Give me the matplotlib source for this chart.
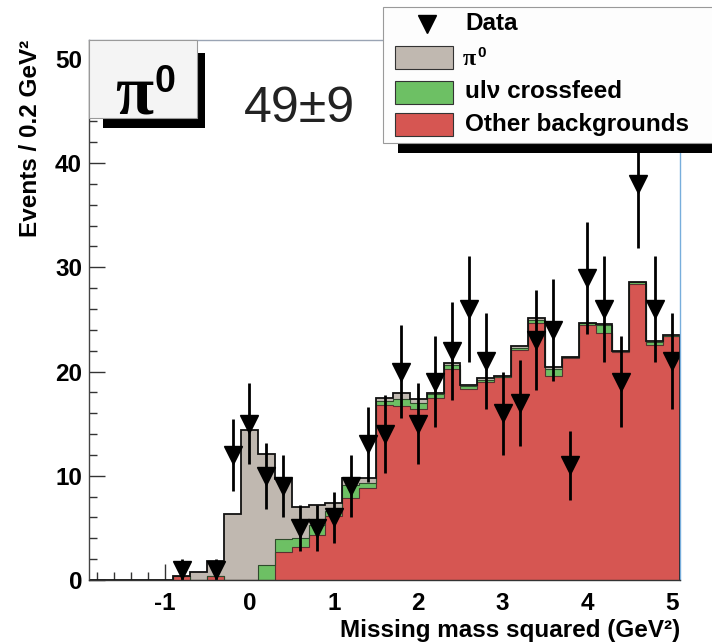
import numpy as np
import matplotlib
matplotlib.use("Agg")
import matplotlib.pyplot as plt
from matplotlib.patches import Rectangle
from matplotlib.lines import Line2D
from matplotlib.ticker import MultipleLocator

# ---- data: 0.2 GeV^2 bins of missing mass squared ----
bin_edges = np.round(np.arange(-1.9, 5.1001, 0.2), 2)
bin_centers = 0.5 * (bin_edges[:-1] + bin_edges[1:])

other_bkg = [0, 0, 0, 0, 0, 0.4, 0, 0.4, 0, 0, 0, 2.7, 3.2, 4.3, 6.1, 7.9, 8.8,
             16.8, 16.7, 16.4, 17.5, 20.2, 18.3, 19.0, 19.45, 22.1, 24.7, 19.6,
             21.3, 24.5, 23.7, 21.9, 28.4, 22.5, 23.4]
ulnu_crossfeed = [0, 0, 0, 0, 0, 0, 0, 0, 0, 0, 1.4, 1.2, 0.8, 1.0, 0.5, 1.2, 0.5,
                  0.35, 0.7, 0.6, 0.3, 0.4, 0.3, 0.2, 0.05, 0.2, 0.2, 0.6,
                  0.05, 0.15, 0.8, 0.05, 0.15, 0.3, 0.05]
pi0_signal = [0, 0, 0, 0, 0, 0, 0.8, 1.4, 6.3, 14.4, 10.7, 5.8, 3.0, 1.9, 0.8, 0.7, 0.5,
              0.35, 0.55, 0.35, 0.15, 0.2, 0.15, 0.2, 0.05, 0.1, 0.2, 0.2,
              0.05, 0.05, 0.05, 0.05, 0.05, 0.1, 0.05]
data_counts = [0, 0, 0, 0, 0, 1, 0, 1, 12, 15, 10, 9, 5, 5, 6, 9, 13,
               14, 20, 15, 19, 22, 26, 21, 16, 17, 23, 24,
               11, 29, 26, 19, 38, 26, 21]

signal_label = "49±9"
legend_labels = ["Data", "π", "ulν crossfeed", "Other backgrounds"]

# ---- style ----
W, H = 712, 644
SANS = "Liberation Sans"
SERIF = "Liberation Serif"
FS = 17.5
c_red = "#d65652"
c_green = "#6dc064"
c_grey = "#c0b8b0"

plt.rcParams["font.family"] = [SANS, "DejaVu Sans"]
plt.rcParams["axes.unicode_minus"] = False


def fx(px):
    return px / W


def fy(py):
    return 1 - py / H


fig = plt.figure(figsize=(W / 100, H / 100), dpi=100)
ax = fig.add_axes([fx(89), fy(580), fx(680) - fx(89), fy(40) - fy(580)])

red = np.array(other_bkg)
green = np.array(ulnu_crossfeed)
pi0 = np.array(pi0_signal)
lvl1 = red
lvl2 = red + green
lvl3 = red + green + pi0

# stacked filled histograms
ax.stairs(lvl1, bin_edges, baseline=0, fill=True, color=c_red, zorder=2)
ax.stairs(lvl2, bin_edges, baseline=lvl1, fill=True, color=c_green, zorder=2)
ax.stairs(lvl3, bin_edges, baseline=lvl2, fill=True, color=c_grey, zorder=2)
ax.stairs(lvl1, bin_edges, color="#5a3030", lw=0.8, zorder=3)
ax.stairs(lvl2, bin_edges, color="#2f4a2c", lw=0.8, zorder=3)
ax.stairs(lvl3, bin_edges, color="#111111", lw=1.3, zorder=3)

# data points with Poisson errors
counts = np.array(data_counts, dtype=float)
mask = counts > 0
ax.errorbar(bin_centers[mask], counts[mask], yerr=np.sqrt(counts[mask]),
            fmt="v", color="black", ms=12.5, elinewidth=2.0, capsize=0, zorder=4)

ax.set_xlim(-1.9, 5.1)
ax.set_ylim(0, 51.8)
ax.xaxis.set_major_locator(MultipleLocator(1))
ax.xaxis.set_minor_locator(MultipleLocator(0.2))
ax.yaxis.set_major_locator(MultipleLocator(10))
ax.yaxis.set_minor_locator(MultipleLocator(2))
ax.tick_params(which="both", direction="in", top=False, right=False,
               color="#333333", width=1.0)
ax.tick_params(which="major", length=11.5)
ax.tick_params(which="minor", length=5.8)
ax.tick_params(axis="x", which="major", pad=9)
ax.tick_params(axis="y", which="major", pad=5)
for lab in ax.get_xticklabels() + ax.get_yticklabels():
    lab.set_fontsize(FS)
    lab.set_fontweight("bold")
    lab.set_family(SANS)
ax.spines["left"].set_color("#444444")
ax.spines["bottom"].set_color("#333333")
ax.spines["top"].set_color("#9aa4b4")
ax.spines["right"].set_color("#78aedc")
for s in ax.spines.values():
    s.set_linewidth(1.0)
    s.set_zorder(5)

# axis titles
fig.text(fx(680), fy(630), "Missing mass squared (GeV²)", ha="right", va="center",
         fontsize=FS, fontweight="bold", family=SANS)
fig.text(fx(31), fy(40), "Events / 0.2 GeV²", ha="center", va="top", rotation=90,
         fontsize=FS, fontweight="bold", family=SANS)

# channel label box with drop shadow
fig.patches.append(Rectangle((fx(103), fy(128)), fx(205) - fx(103), fy(53) - fy(128),
                             transform=fig.transFigure, facecolor="black",
                             edgecolor="none", zorder=6))
fig.patches.append(Rectangle((fx(89), fy(118)), fx(197) - fx(89), fy(40) - fy(118),
                             transform=fig.transFigure, facecolor="#f4f4f4",
                             edgecolor="#9a9a9a", lw=0.8, zorder=7))
fig.text(fx(134), fy(113), "π", ha="center", va="baseline", fontsize=50,
         fontweight="bold", family=SERIF, zorder=8)
fig.text(fx(155), fy(92), "0", ha="left", va="baseline", fontsize=27,
         fontweight="bold", family=SANS, zorder=8)

# signal yield
fig.text(fx(299), fy(122), signal_label, ha="center", va="baseline", fontsize=36,
         family=SANS, color="#222222", zorder=8)

# legend box with drop shadow
fig.patches.append(Rectangle((fx(398), fy(153)), fx(720) - fx(398), fy(20) - fy(153),
                             transform=fig.transFigure, facecolor="black",
                             edgecolor="none", zorder=6))
fig.patches.append(Rectangle((fx(383), fy(143)), fx(716) - fx(383), fy(7) - fy(143),
                             transform=fig.transFigure, facecolor="#fdfdfd",
                             edgecolor="#9a9a9a", lw=0.8, zorder=7))
row_y = [24, 57, 92, 125]
fig.lines.append(Line2D([fx(427)], [fy(row_y[0])], marker="v", ms=12.5, color="black",
                        transform=fig.transFigure, zorder=8))
for yy, col in zip(row_y[1:], [c_grey, c_green, c_red]):
    fig.patches.append(Rectangle((fx(395), fy(yy + 11.5)), fx(453) - fx(395), 23 / H,
                                 transform=fig.transFigure, facecolor=col,
                                 edgecolor="#333333", lw=0.8, zorder=8))
for i, (yy, lab) in enumerate(zip(row_y, legend_labels)):
    if i == 1:
        fig.text(fx(463), fy(yy + 8), lab, ha="left", va="baseline", fontsize=FS,
                 fontweight="bold", family=SERIF, zorder=9)
        fig.text(fx(477), fy(yy), "0", ha="left", va="baseline", fontsize=11,
                 fontweight="bold", family=SANS, zorder=9)
    else:
        fig.text(fx(465), fy(yy), lab, ha="left", va="center", fontsize=FS,
                 fontweight="bold", family=SANS, zorder=9)

fig.savefig("out.png", dpi=100)
